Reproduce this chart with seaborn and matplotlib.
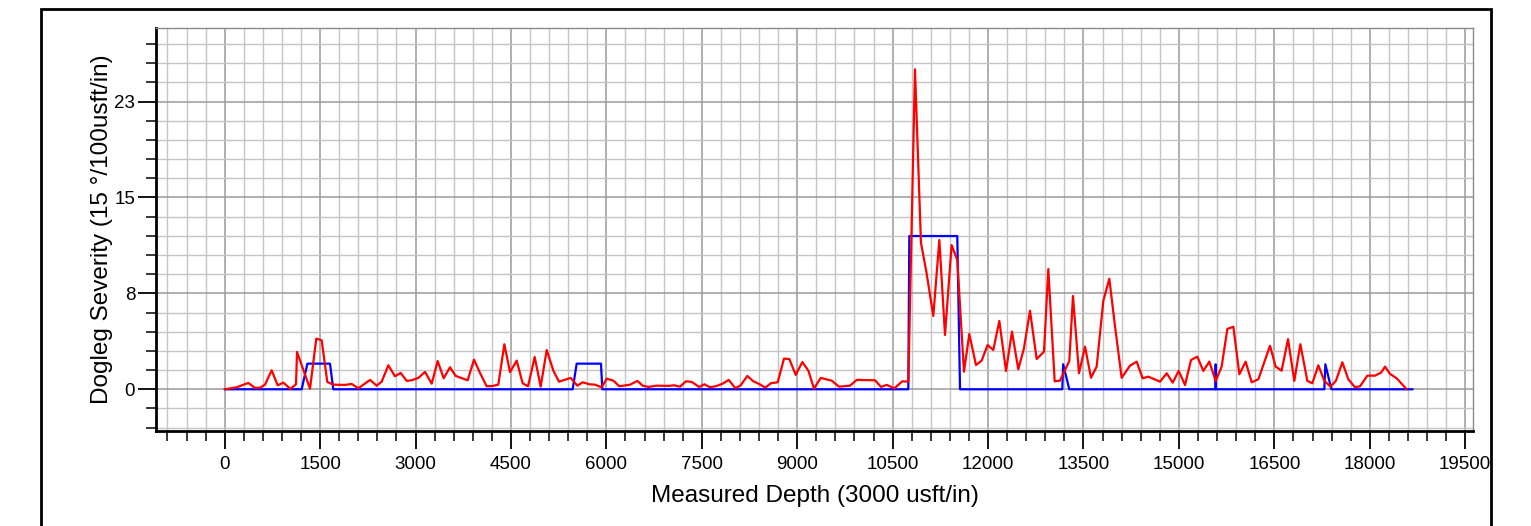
import numpy as np
import pandas as pd
import matplotlib
matplotlib.use("Agg")
import matplotlib.pyplot as plt
import matplotlib.ticker as mticker
from matplotlib.patches import Rectangle
import seaborn as sns

# survey dogleg severity (red)
red_md = [0, 188, 371, 476, 555, 634, 738, 833, 922, 1032, 1121, 1137, 1341, 1440, 1524, 1613,
          1708, 1891, 1996, 2101, 2284, 2389, 2468, 2572, 2677, 2766, 2861, 2939, 3044, 3149,
          3254, 3348, 3442, 3542, 3631, 3819, 3919, 4013, 4118, 4212, 4301, 4396, 4485, 4590,
          4684, 4768, 4873, 4967, 5062, 5166, 5255, 5439, 5544, 5628, 5732, 5821, 5926, 6005,
          6110, 6204, 6372, 6487, 6571, 6660, 6791, 6974, 7069, 7158, 7252, 7341, 7456, 7540,
          7629, 7734, 7828, 7923, 8028, 8111, 8216, 8310, 8399, 8499, 8583, 8693, 8792, 8876,
          8976, 9081, 9175, 9264, 9369, 9542, 9657, 9830, 9935, 10223, 10318, 10407, 10527,
          10653, 10747, 10851, 10945, 11034, 11139, 11234, 11323, 11427, 11516, 11621, 11705,
          11810, 11899, 11993, 12082, 12177, 12282, 12376, 12475, 12564, 12659, 12764, 12879,
          12947, 13047, 13130, 13277, 13335, 13429, 13524, 13618, 13707, 13812, 13906, 13995,
          14100, 14231, 14336, 14430, 14519, 14703, 14808, 14902, 14996, 15096, 15190, 15289,
          15384, 15478, 15578, 15672, 15761, 15856, 15950, 16049, 16144, 16249, 16432, 16521,
          16615, 16715, 16814, 16909, 17019, 17097, 17192, 17286, 17385, 17469, 17569, 17663,
          17768, 17847, 17962, 18082, 18177, 18240, 18318, 18423, 18580]
red_dls = [0, 0.16, 0.51, 0.11, 0.13, 0.37, 1.52, 0.32, 0.53, 0.03, 0.40, 2.98, 0.05, 4.05, 3.92, 0.59,
           0.37, 0.35, 0.43, 0.08, 0.75, 0.29, 0.61, 1.92, 1.04, 1.31, 0.67, 0.72, 0.91, 1.39,
           0.45, 2.26, 0.88, 1.76, 1.07, 0.72, 2.37, 1.31, 0.24, 0.27, 0.37, 3.60, 1.37, 2.29,
           0.48, 0.24, 2.58, 0.21, 3.14, 1.49, 0.61, 0.91, 0.29, 0.56, 0.40, 0.37, 0.16, 0.85,
           0.69, 0.24, 0.37, 0.67, 0.29, 0.19, 0.29, 0.27, 0.32, 0.21, 0.64, 0.59, 0.19, 0.40,
           0.16, 0.27, 0.45, 0.75, 0.08, 0.32, 1.07, 0.64, 0.43, 0.13, 0.48, 0.56, 2.45, 2.42,
           1.15, 2.18, 1.49, 0.05, 0.91, 0.69, 0.21, 0.29, 0.75, 0.72, 0.19, 0.35, 0.08,
           0.64, 0.61, 25.58, 11.72, 9.27, 5.86, 11.93, 4.34, 11.53, 10.33, 1.41, 4.42,
           1.94, 2.29, 3.54, 3.14, 5.46, 1.46, 4.61, 1.60, 3.27, 6.28, 2.42, 3.01,
           9.61, 0.64, 0.69, 2.26, 7.46, 1.28, 3.41, 0.92, 1.81, 7.08, 8.84, 5.05,
           0.92, 1.89, 2.21, 0.88, 1.01, 0.61, 1.28, 0.53, 1.47, 0.34, 2.34, 2.61,
           1.47, 2.21, 0.66, 1.81, 4.82, 5.00, 1.20, 2.21, 0.56, 0.80, 3.48, 1.81,
           1.49, 4.01, 0.67, 3.60, 0.67, 0.48, 1.92, 0.67, 0.21, 0.69, 2.16, 0.80,
           0.16, 0.24, 1.09, 1.09, 1.33, 1.81, 1.23, 0.88, 0]

# planned dogleg severity (blue)
blue_md = [0, 1210, 1300, 1655, 1707, 5470, 5533, 5915, 5936, 10746, 10762, 11516, 11559,
           13167, 13180, 13277, 15575, 15578, 15581, 17286, 17302, 17397, 18675]
blue_dls = [0, 0, 2.05, 2.05, 0, 0, 2.05, 2.05, 0, 0, 12.25, 12.25, 0,
            0, 2.0, 0, 0, 2.0, 0, 0, 2.0, 0, 0]

x_ticks = list(range(0, 19501, 1500))
y_ticks = [0, 23 / 3, 46 / 3, 23]
y_labels = ['0', '8', '15', '23']

sns.set_style('white')
plt.rcParams['font.family'] = ['Liberation Sans', 'DejaVu Sans']
plt.rcParams['text.color'] = 'black'
plt.rcParams['axes.labelcolor'] = 'black'

fig = plt.figure(figsize=(15.31, 5.26), dpi=100)
ax = fig.add_axes([156 / 1531, 1 - 430.7 / 526, (1473 - 156) / 1531, (430.7 - 28) / 526])

df_red = pd.DataFrame({'md': red_md, 'dls': red_dls})
df_blue = pd.DataFrame({'md': blue_md, 'dls': blue_dls})
sns.lineplot(data=df_blue, x='md', y='dls', color='#0000ff', lw=1.6, estimator=None, sort=False, ax=ax, zorder=3)
sns.lineplot(data=df_red, x='md', y='dls', color='#ff0000', lw=1.6, estimator=None, sort=False, ax=ax, zorder=4)

ax.set_xlim(-1080, 19623)
ax.set_ylim(-3.31, 28.88)

ax.xaxis.set_major_locator(mticker.FixedLocator(x_ticks))
ax.xaxis.set_minor_locator(mticker.MultipleLocator(300))
ax.set_xticklabels([str(t) for t in x_ticks])
ax.yaxis.set_major_locator(mticker.FixedLocator(y_ticks))
ax.yaxis.set_minor_locator(mticker.MultipleLocator(23 / 15))
ax.set_yticklabels(y_labels)

ax.grid(which='minor', color='#c4c4c4', lw=1.0, zorder=0)
ax.grid(which='major', color='#9a9a9a', lw=1.1, zorder=0)
ax.set_axisbelow(True)

ax.tick_params(axis='both', which='major', direction='out', length=13, width=1.3,
               colors='black', labelsize=13.5, left=True, bottom=True)
ax.tick_params(axis='both', which='minor', direction='out', length=7, width=1.1,
               colors='black', left=True, bottom=True)
ax.tick_params(axis='x', which='major', pad=5)
ax.tick_params(axis='y', which='major', pad=2)

for s in ['left', 'bottom']:
    ax.spines[s].set_color('black')
    ax.spines[s].set_linewidth(2)
for s in ['top', 'right']:
    ax.spines[s].set_color('#8a8a8a')
    ax.spines[s].set_linewidth(1)

ax.set_xlabel('Measured Depth (3000 usft/in)', fontsize=17.5, labelpad=9, color='black')
ax.set_ylabel('Dogleg Severity (15 °/100usft/in)', fontsize=17.5, labelpad=1, color='black')

# outer frame of the page
fig.patches.append(Rectangle((41 / 1531, -0.05), (1491 - 41) / 1531, 1 - 9 / 526 + 0.05,
                             transform=fig.transFigure, fill=False, edgecolor='black', lw=2))

fig.savefig('out.png', dpi=100)
